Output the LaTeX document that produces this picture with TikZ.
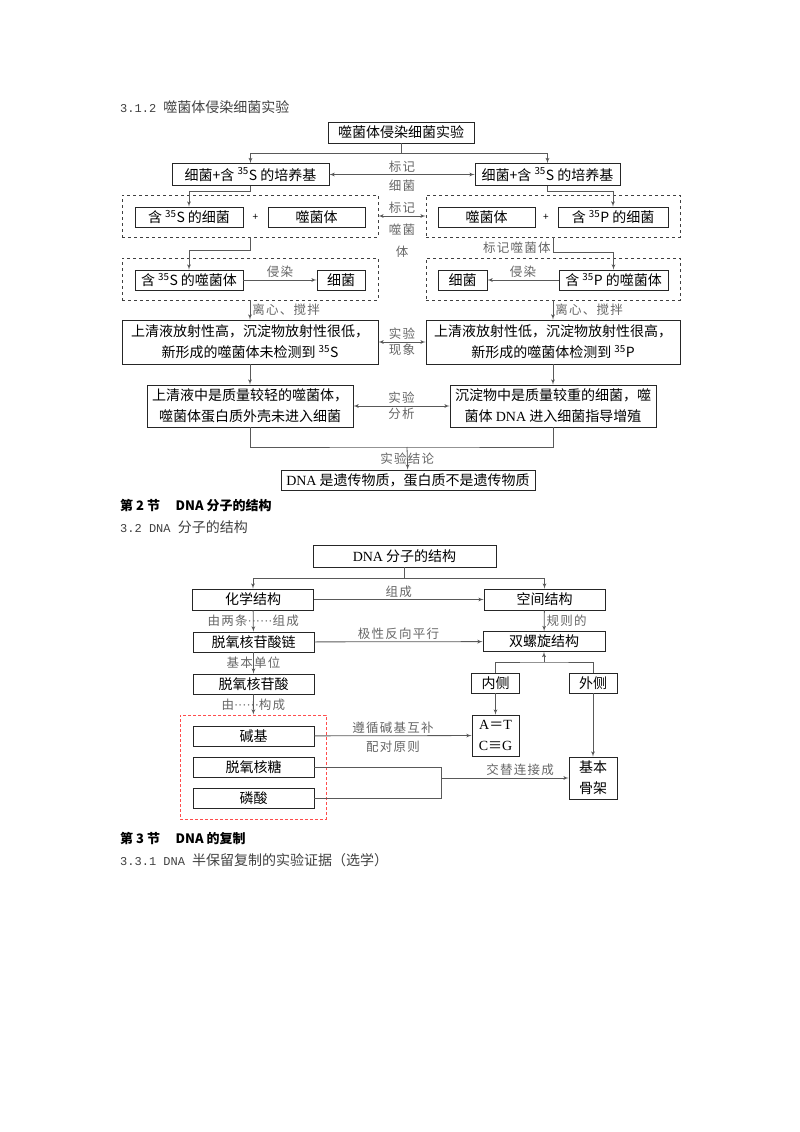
\documentclass[tikz,border=0pt]{standalone}
\usepackage{fontspec}
\setmainfont{Noto Sans CJK SC}
\newfontfamily\lat{Liberation Serif}
\newfontfamily\mono{Liberation Mono}
\newfontfamily\lab[LetterSpace=10]{Noto Sans CJK SC}
\newcommand\hnum[1]{{\mono\fontsize{12}{14}\selectfont #1}}
\usetikzlibrary{arrows}
\tikzset{box/.style = {shape=rectangle,draw=black!85,line width=0.8pt,inner sep=0,align=center,font=\fontsize{14}{21}\selectfont}}
\tikzset{wide/.style={minimum width=#1}}
\tikzset{high/.style={minimum height=#1}}
\tikzset{group/.style = {shape=rectangle,draw=black!75,line width=0.7pt,dashed,inner sep=0}}
\tikzset{edge/.style = {->,> = latex',draw=black!65,line width=0.8pt}}
\tikzset{line/.style = {draw=black!65,line width=0.8pt}}
\tikzset{tag/.style = {text=black!60,align=center,inner sep=2pt,font=\lab\fontsize{12.5}{22}\selectfont}}
\tikzset{head/.style = {anchor=west,inner sep=0,text=black!75,font=\fontsize{14}{16}\selectfont}}
\tikzset{headb/.style = {head,text=black,font=\bfseries\fontsize{13}{15}\selectfont}}

\begin{document}
\begin{tikzpicture}[x=1pt,y=-1pt]
\useasboundingbox (0,0) rectangle (800,1132);

\node[head] (t1) at (120,107) {\hnum{3.1.2 }噬菌体侵染细菌实验};
\node[box,wide=146,high=21] (exp) at (401,132.5) {噬菌体侵染细菌实验};
\node[box,wide=157,high=22] (cultS) at (250.5,174.5) {细菌+含 \textsuperscript{35}S 的培养基};
\node[box,wide=145,high=22] (cultP) at (547.5,174.5) {细菌+含 \textsuperscript{35}S 的培养基};

\node[group,wide=256,high=42] (grpA) at (250,216) {};
\node[box,wide=108,high=20] (bacS) at (189,217) {含 \textsuperscript{35}S 的细菌};
\node[font=\fontsize{10}{12}\selectfont] (plusA) at (255.5,217) {+};
\node[box,wide=97,high=20] (phgA) at (316.5,217) {噬菌体};
\node[group,wide=254,high=42] (grpB) at (553,216) {};
\node[box,wide=97,high=20] (phgB) at (486.5,217) {噬菌体};
\node[font=\fontsize{10}{12}\selectfont] (plusB) at (546,217) {+};
\node[box,wide=110,high=20] (bacP) at (613,217) {含 \textsuperscript{35}P 的细菌};

\node[group,wide=256,high=42] (grpC) at (250,279) {};
\node[box,wide=108,high=20] (phgS) at (189,280) {含 \textsuperscript{35}S 的噬菌体};
\node[box,wide=48,high=20] (bacC) at (341,280) {细菌};
\node[group,wide=254,high=42] (grpD) at (553,279) {};
\node[box,wide=49,high=20] (bacD) at (462.5,280) {细菌};
\node[box,wide=109,high=20] (phgP) at (613.5,280) {含 \textsuperscript{35}P 的噬菌体};

\node[box,wide=256,high=44] (obsS) at (250,342) {上清液放射性高，沉淀物放射性很低，\\新形成的噬菌体未检测到 \textsuperscript{35}S};
\node[box,wide=254,high=44] (obsP) at (553,342) {上清液放射性低，沉淀物放射性很高，\\新形成的噬菌体检测到 \textsuperscript{35}P};
\node[box,wide=206,high=42] (anaS) at (250,406) {上清液中是质量较轻的噬菌体，\\噬菌体蛋白质外壳未进入细菌};
\node[box,wide=206,high=42] (anaP) at (553,406) {沉淀物中是质量较重的细菌，噬\\菌体 {\lat DNA} 进入细菌指导增殖};
\node[box,wide=254,high=20] (concl) at (408,480) {{\lat DNA} 是遗传物质，蛋白质不是遗传物质};

\coordinate (fork1) at (401,153);
\draw[line] (exp) to (fork1);
\draw[edge] (fork1) -| (cultS);
\draw[edge] (fork1) -| (cultP);
\draw[edge,<->] (cultS) to node[tag,above] {标记} node[tag,below=3pt] {细菌} (cultP);
\draw[edge] (cultS.south) -- ++(0,5) -| (bacS);
\draw[edge] (cultP.south) -- ++(0,5) -| (bacP);
\draw[edge,<->] (grpA) to node[tag,above] {标记} node[tag,below=6pt] {噬菌\\体} (grpB);
\draw[edge] (grpA.south) -- ++(0,13) -| (phgS);
\draw[edge] (grpB.south) -- node[tag,left,pos=0.7] {标记噬菌体} ++(0,15) -| (phgP);
\draw[edge] (phgS) to node[tag,above] {侵染} (bacC);
\draw[edge] (phgP) to node[tag,above] {侵染} (bacD);
\draw[edge] (grpC) to node[tag,right] {离心、搅拌} (obsS);
\draw[edge] (grpD) to node[tag,right] {离心、搅拌} (obsP);
\draw[edge,<->] (obsS) to node[tag,above] {实验} node[tag,below] {现象} (obsP);
\draw[edge] (obsS) to (anaS);
\draw[edge] (obsP) to (anaP);
\draw[edge,<->] (anaS) to node[tag,above] {实验} node[tag,below] {分析} (anaP);
\coordinate (join) at (407,447);
\draw[line] (anaS) |- (join) -| (anaP);
\draw[edge] (join) to node[tag] {实验结论} (concl);

\node[headb] (t2) at (120,506) {第 2 节\hspace{1.2em}DNA 分子的结构};
\node[head] (t3) at (120,527) {\hnum{3.2 DNA }分子的结构};

\node[box,wide=183,high=22] (dna) at (404.5,556) {{\lat DNA} 分子的结构};
\node[box,wide=121,high=21] (chem) at (253,599.5) {化学结构};
\node[box,wide=121,high=21] (spat) at (544.5,599.5) {空间结构};
\node[box,wide=121,high=20] (chain) at (253.5,642) {脱氧核苷酸链};
\node[box,wide=122,high=20] (helix) at (544,641.5) {双螺旋结构};
\node[box,wide=121,high=20] (nucl) at (253.5,684) {脱氧核苷酸};
\node[group,draw=red!70,dash pattern=on 3pt off 2pt,wide=146,high=104] (comp) at (253,767) {};
\node[box,wide=121,high=20] (base) at (253.5,736) {碱基};
\node[box,wide=121,high=20] (sugar) at (253.5,767) {脱氧核糖};
\node[box,wide=121,high=20] (phos) at (253.5,798) {磷酸};
\node[box,wide=48,high=20] (inner) at (495.5,683) {内侧};
\node[box,wide=48,high=20] (outer) at (593,683) {外侧};
\node[box,wide=47,high=41] (pair) at (495.5,735.5) {{\lat A}＝{\lat T}\\{\lat C}≡{\lat G}};
\node[box,wide=48,high=42] (frame) at (593,778) {基本\\骨架};

\coordinate (fork2) at (404.5,578);
\draw[line] (dna) to (fork2);
\draw[edge] (fork2) -| (chem);
\draw[edge] (fork2) -| (spat);
\draw[edge] (chem) to node[tag,above] {组成} (spat);
\draw[edge] (chem) to node[tag] {由两条{\lat ······}组成} (chain);
\draw[edge] (spat) to node[tag,right] {规则的} (helix);
\draw[edge] (chain) to node[tag,above] {极性反向平行} (helix);
\draw[edge] (chain) to node[tag] {基本单位} (nucl);
\draw[edge] (nucl) to node[tag] {由{\lat ······}构成} (comp);
\coordinate (split) at (544,662);
\draw[line] (inner) |- (split) -| (outer);
\draw[edge] (split) to (helix);
\draw[edge] (inner) to (pair);
\draw[edge] (outer) to (frame);
\draw[edge] (base) to node[tag,above] {遵循碱基互补} node[tag,below=3pt] {配对原则} (pair);
\coordinate (bkt) at (441,778);
\draw[line] (sugar) -| (bkt);
\draw[line] (phos) -| (bkt);
\draw[edge] (bkt) to node[tag,above,pos=0.62] {交替连接成} (frame);

\node[headb] (t4) at (120,838) {第 3 节\hspace{1.2em}DNA 的复制};
\node[head] (t5) at (120,860) {\hnum{3.3.1 DNA }半保留复制的实验证据（选学）};
\end{tikzpicture}
\end{document}
